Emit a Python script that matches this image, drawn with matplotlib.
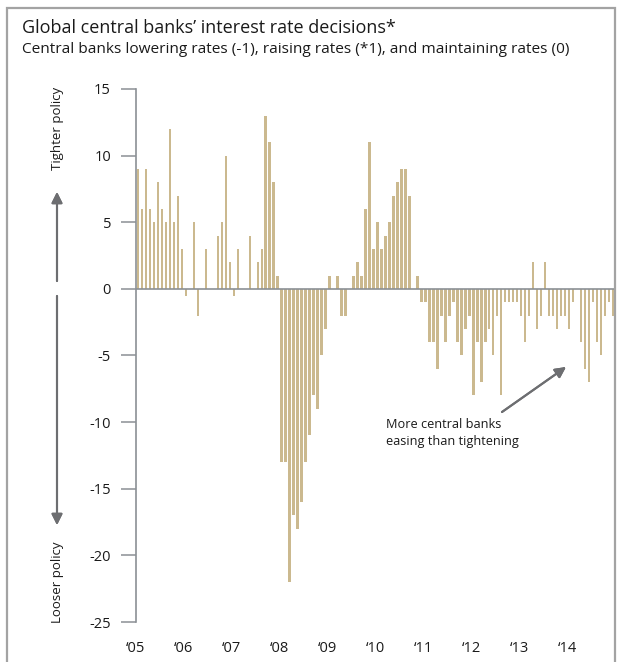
import matplotlib.pyplot as plt
import numpy as np
from matplotlib.patches import Rectangle

plt.rcParams["font.family"] = ["Open Sans", "DejaVu Sans"]
plt.rcParams["axes.unicode_minus"] = False

# net count of central banks tightening (+1) vs easing (-1), monthly
year_labels = ["‘05", "‘06", "‘07", "‘08", "‘09", "‘10", "‘11", "‘12", "‘13", "‘14"]

net_2005 = [9, 6, 9, 6, 5, 8, 6, 5, 12, 5, 7, 3]
net_2006 = [-0.5, 0, 5, -2, 0, 3, 0, 0, 4, 5, 10, 2]
net_2007 = [-0.5, 3, 0, 0, 4, 0, 2, 3, 13, 11, 8, 1]
net_2008 = [-13, -13, -22, -17, -18, -16, -13, -11, -8, -9, -5, -3]
net_2009 = [1, 0, 1, -2, -2, 0, 1, 2, 1, 6, 11, 3]
net_2010 = [5, 3, 4, 5, 7, 8, 9, 9, 7, 0, 1, -1]
net_2011 = [-1, -4, -4, -6, -2, -4, -2, -1, -4, -5, -3, -2]
net_2012 = [-8, -4, -7, -4, -3, -5, -2, -8, -1, -1, -1, -1]
net_2013 = [-2, -4, -2, 2, -3, -2, 2, -2, -2, -3, -2, -2]
net_2014 = [-3, -1, 0, -4, -6, -7, -1, -4, -5, -2, -1, -2]

net_decisions = (net_2005 + net_2006 + net_2007 + net_2008 + net_2009
                 + net_2010 + net_2011 + net_2012 + net_2013 + net_2014)
months = np.arange(len(net_decisions))

BAR_COLOR = "#cbb98f"
AXIS_COLOR = "#8b9095"
ARROW_COLOR = "#6d6e71"
TEXT_COLOR = "#1a1a1a"

W, H = 621, 662


def fx(px):
    return px / W


def fy(py):
    # pixel measured from the top edge -> figure fraction
    return 1 - py / H


fig = plt.figure(figsize=(W / 100, H / 100), dpi=100)
ax = fig.add_axes([fx(136), fy(622), fx(615 - 136), (622 - 89) / H])

ax.bar(months + 0.5, net_decisions, width=0.62, color=BAR_COLOR, linewidth=0)
ax.axhline(0, color=AXIS_COLOR, lw=1.2, zorder=3)

ax.set_xlim(0, len(net_decisions))
ax.set_ylim(-25, 15)
ax.set_yticks(np.arange(-25, 16, 5))
ax.set_xticks(np.arange(0, len(net_decisions), 12))
ax.set_xticklabels(year_labels)

for side in ["top", "right", "bottom"]:
    ax.spines[side].set_visible(False)
ax.spines["left"].set_color(AXIS_COLOR)
ax.spines["left"].set_linewidth(1.2)

ax.tick_params(axis="y", length=11, width=1.1, color=AXIS_COLOR, pad=7,
               labelsize=10.5, labelcolor=TEXT_COLOR)
ax.tick_params(axis="x", length=0, pad=14, labelsize=10.5, labelcolor=TEXT_COLOR)

# titles
fig.text(fx(22), fy(33), "Global central banks’ interest rate decisions*",
         fontsize=13, color=TEXT_COLOR, va="baseline")
fig.text(fx(22), fy(53),
         "Central banks lowering rates (-1), raising rates (*1), and maintaining rates (0)",
         fontsize=11.1, color=TEXT_COLOR, va="baseline")

# policy direction arrows on the left
fig.text(fx(57), fy(128), "Tighter policy", rotation=90, fontsize=9.5,
         color=TEXT_COLOR, ha="center", va="center")
fig.text(fx(57), fy(582), "Looser policy", rotation=90, fontsize=9.5,
         color=TEXT_COLOR, ha="center", va="center")
arrow_style = dict(arrowstyle="-|>", color=ARROW_COLOR, lw=1.5,
                   mutation_scale=16, shrinkA=0, shrinkB=0)
fig.add_artist(plt.annotate("", xy=(fx(57), fy(192)), xytext=(fx(57), fy(281)),
                            xycoords="figure fraction", arrowprops=arrow_style))
fig.add_artist(plt.annotate("", xy=(fx(57), fy(525)), xytext=(fx(57), fy(296)),
                            xycoords="figure fraction", arrowprops=arrow_style))

# callout
fig.text(fx(386), fy(445), "More central banks\neasing than tightening",
         fontsize=9.2, color=TEXT_COLOR, va="baseline", linespacing=1.45)
fig.add_artist(plt.annotate("", xy=(fx(566), fy(367)), xytext=(fx(502), fy(412)),
                            xycoords="figure fraction",
                            arrowprops=dict(arrowstyle="-|>", color=ARROW_COLOR, lw=1.5,
                                            mutation_scale=16, shrinkA=0, shrinkB=0)))

# outer frame
fig.add_artist(Rectangle((fx(6.5), -0.05), fx(615 - 6.5), fy(8) + 0.05,
                         transform=fig.transFigure, fill=False,
                         edgecolor="#a3a3a3", lw=1.6))

fig.savefig("out.png", dpi=100)
plt.close(fig)
